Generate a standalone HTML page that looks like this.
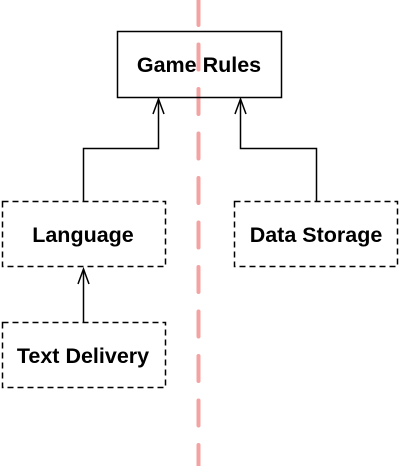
<!DOCTYPE html>
<html><head><meta charset="utf-8"><style>
html,body{margin:0;padding:0;background:#fff;}
svg{display:block;}
text{font-family:"Liberation Sans",Arial,sans-serif;font-weight:bold;font-size:21.5px;fill:#000;}
</style></head><body>
<svg width="400" height="466" viewBox="0 0 400 466" xmlns="http://www.w3.org/2000/svg">
<line x1="198.5" y1="0" x2="198.5" y2="466" stroke="#f4a3a3" stroke-width="4" stroke-dasharray="25 19.5" stroke-linecap="round"/>
<rect x="117.5" y="31.5" width="164" height="66" fill="none" stroke="#000" stroke-width="1.5"/>
<text x="199" y="72" text-anchor="middle">Game Rules</text>
<rect x="2.5" y="201.5" width="163" height="65" fill="none" stroke="#000" stroke-width="1.5" stroke-dasharray="6 4"/>
<text x="83" y="242" text-anchor="middle">Language</text>
<rect x="234.5" y="201.5" width="163" height="65" fill="none" stroke="#000" stroke-width="1.5" stroke-dasharray="6 4"/>
<text x="316" y="242" text-anchor="middle">Data Storage</text>
<rect x="2.5" y="322.5" width="163" height="65" fill="none" stroke="#000" stroke-width="1.5" stroke-dasharray="6 4"/>
<text x="83" y="363" text-anchor="middle">Text Delivery</text>
<g fill="none" stroke="#000" stroke-width="1.5">
<polyline points="83.5,201 83.5,148.5 158.5,148.5 158.5,99"/>
<polyline points="153,114 158.5,99 164,114"/>
<polyline points="316.5,201 316.5,148.5 240.5,148.5 240.5,99"/>
<polyline points="235,114 240.5,99 246,114"/>
<polyline points="83.5,322 83.5,269"/>
<polyline points="78,284 83.5,269 89,284"/>
</g>
</svg>
</body></html>
